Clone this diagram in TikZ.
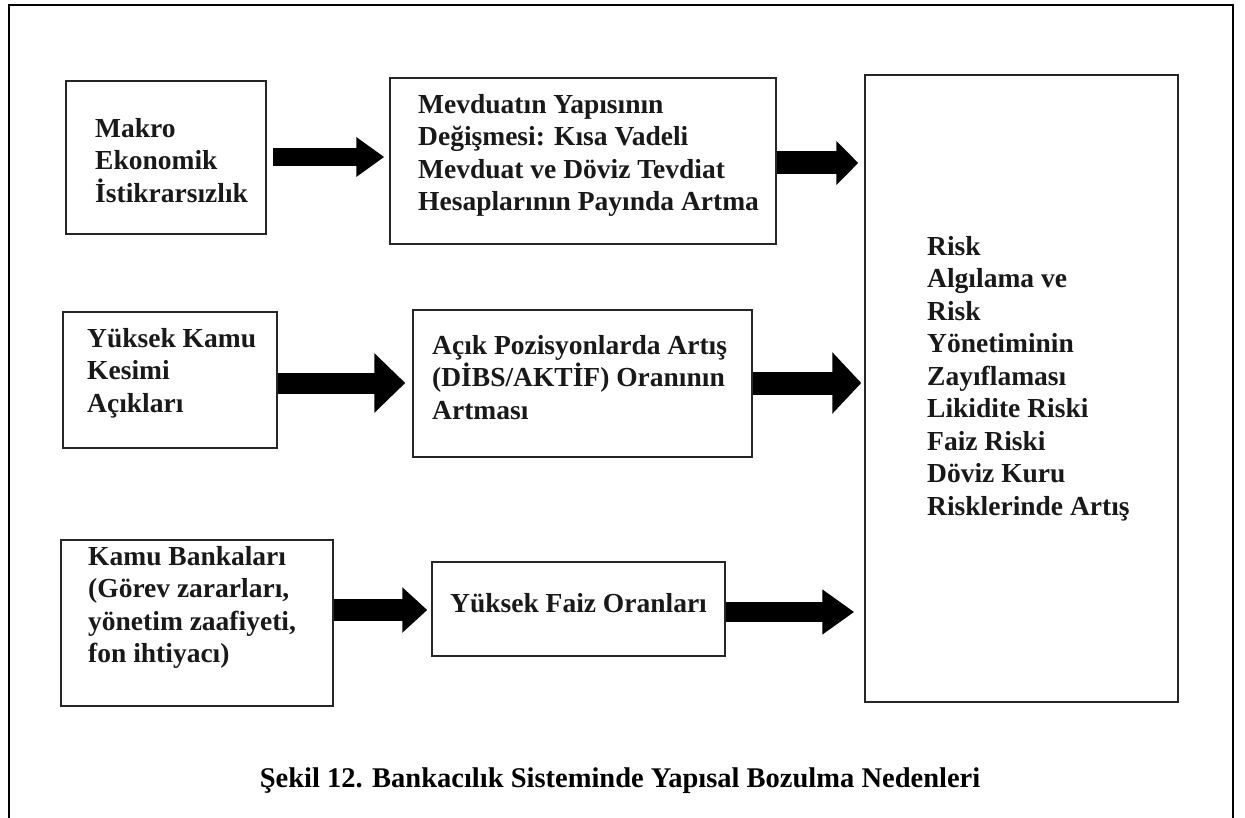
\documentclass[tikz,border=0pt]{standalone}
\usepackage{fontspec}
\setmainfont{Liberation Serif}
\usetikzlibrary{arrows.meta}
\begin{document}
\begin{tikzpicture}[x=1pt,y=-1pt,
  box/.style={draw=black!85, line width=1.5pt, inner sep=0pt},
  txt/.style={anchor=north west, align=left, inner sep=0pt,
    font=\bfseries\fontsize{27.5}{32.5}\selectfont, text=black!90},
  barrow/.style args={#1/#2/#3}{line width=#1, draw=black,
    -{Triangle[width=#2, length=#3]}}]
\useasboundingbox (0,0) rectangle (1245,818);
% outer frame (open at bottom)
\draw[line width=1.6pt] (9,818) -- (9,5) -- (1233,5) -- (1233,818);
% boxes
\node[box, minimum width=200pt, minimum height=153pt] (b1) at (166,157.5) {};
\node[box, minimum width=386pt, minimum height=166pt] (b2) at (583,161) {};
\node[box, minimum width=313pt, minimum height=627pt] (r) at (1021.5,388.5) {};
\node[box, minimum width=214pt, minimum height=136pt] (b3) at (170,380) {};
\node[box, minimum width=339pt, minimum height=147pt] (b4) at (582.5,383.5) {};
\node[box, minimum width=272pt, minimum height=166pt] (b5) at (197,623) {};
\node[box, minimum width=293pt, minimum height=94pt] (b6) at (578.5,609) {};
% texts
\node[txt] (t1) at (95,113) {\rule{0pt}{24pt}Makro\\Ekonomik\\İstikrarsızlık};
\node[txt] (t2) at (418,89) {\rule{0pt}{24pt}Mevduatın Yapısının\\Değişmesi: Kısa Vadeli\\Mevduat ve Döviz Tevdiat\\Hesaplarının Payında Artma};
\node[txt] (t3) at (87,323) {\rule{0pt}{24pt}Yüksek Kamu\\Kesimi\\Açıkları};
\node[txt] (t4) at (432,330) {\rule{0pt}{24pt}Açık Pozisyonlarda Artış\\(DİBS/AKTİF) Oranının\\Artması};
\node[txt] (t5) at (88,541) {\rule{0pt}{24pt}Kamu Bankaları\\(Görev zararları,\\yönetim zaafiyeti,\\fon ihtiyacı)};
\node[txt] (t6) at (450,588) {\rule{0pt}{24pt}Yüksek Faiz Oranları};
\node[txt] (tr) at (927,231) {\rule{0pt}{24pt}Risk\\Algılama ve\\Risk\\Yönetiminin\\Zayıflaması\\Likidite Riski\\Faiz Riski\\Döviz Kuru\\Risklerinde Artış};
% caption
\node[anchor=base, inner sep=0pt, font=\bfseries\fontsize{28.5}{34}\selectfont] (cap) at (620,787) {Şekil 12. Bankacılık Sisteminde Yapısal Bozulma Nedenleri};
% arrows
\draw[barrow=18pt/38pt/28pt, shorten <=6pt, shorten >=5pt] (b1.east |- 0,157) -- (b2.west |- 0,157);
\draw[barrow=23pt/43pt/22pt, shorten >=6pt] (b2.east |- 0,163) -- (r.west |- 0,163);
\draw[barrow=21pt/58pt/31pt, shorten >=7pt] (b3.east |- 0,383) -- (b4.west |- 0,383);
\draw[barrow=23pt/60pt/29pt, shorten >=3pt] (b4.east |- 0,383) -- (r.west |- 0,383);
\draw[barrow=22pt/44pt/25pt, shorten >=4pt] (b5.east |- 0,610) -- (b6.west |- 0,610);
\draw[barrow=20pt/43pt/32pt, shorten >=10pt] (b6.east |- 0,612) -- (r.west |- 0,612);
\end{tikzpicture}
\end{document}
